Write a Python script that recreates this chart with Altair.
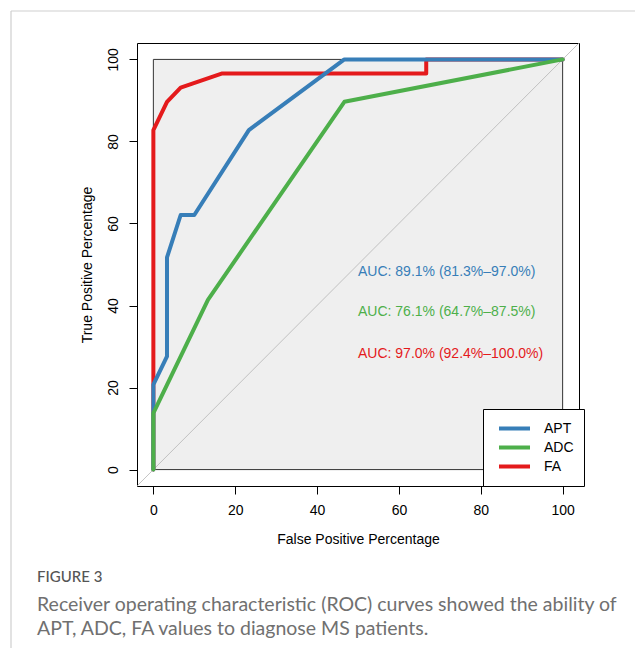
import altair as alt
import pandas as pd

# ---- data ----
series_names = ["APT", "ADC", "FA"]
series_colors = ["#377EB8", "#4DAF4A", "#E41A1C"]

apt_fpr = [0, 0, 3.33, 3.33, 6.67, 10.0, 23.33, 46.67, 100]
apt_tpr = [0, 20.69, 27.59, 51.72, 62.07, 62.07, 82.76, 100, 100]

adc_fpr = [0, 0, 13.33, 46.67, 100]
adc_tpr = [0, 13.79, 41.38, 89.66, 100]

fa_fpr = [0, 0, 3.33, 6.67, 16.67, 66.67, 66.67, 100]
fa_tpr = [0, 82.76, 89.66, 93.10, 96.55, 96.55, 100, 100]

auc_texts = ["AUC: 89.1% (81.3%\u201397.0%)",
             "AUC: 76.1% (64.7%\u201387.5%)",
             "AUC: 97.0% (92.4%\u2013100.0%)"]
auc_x = [50, 50, 50]
auc_y = [48.2, 38.4, 28.2]

x_ticks = [0, 20, 40, 60, 80, 100]
y_ticks = [0, 20, 40, 60, 80, 100]
axis_limits = [-4, 104]

caption_head = "FIGURE 3"
caption_lines = ["Receiver operating characteristic (ROC) curves showed the ability of",
                 "APT, ADC, FA values to diagnose MS patients."]

# ---- tables ----
def curve(name, fx, ty):
    return pd.DataFrame({"series": name, "fpr": fx, "tpr": ty, "i": range(len(fx))})

df_apt = curve("APT", apt_fpr, apt_tpr)
df_adc = curve("ADC", adc_fpr, adc_tpr)
df_fa = curve("FA", fa_fpr, fa_tpr)
df_auc = pd.DataFrame({"series": series_names, "text": auc_texts, "x": auc_x, "y": auc_y})
df_box = pd.DataFrame({"x": [0], "x2": [100], "y": [0], "y2": [100]})
df_diag = pd.DataFrame({"x": axis_limits, "y": axis_limits})

FONT = "Liberation Sans"
W, H = 442, 443
PAD_L, PAD_T = 129, 35
TOTAL_W, TOTAL_H = 627, 640

xscale = alt.Scale(domain=axis_limits, nice=False, zero=False)
yscale = alt.Scale(domain=axis_limits, nice=False, zero=False)

xaxis = alt.Axis(values=x_ticks, title="False Positive Percentage", labelPadding=9,
                 titleY=57, titleBaseline="alphabetic", labelFlush=False)
yaxis = alt.Axis(values=y_ticks, title="True Positive Percentage", labelAngle=-90,
                 labelAlign="center", labelBaseline="alphabetic", labelPadding=12,
                 titleX=-46, titleBaseline="alphabetic", titleAngle=270, labelFlush=False)

color = alt.Color("series:N",
                  scale=alt.Scale(domain=series_names, range=series_colors),
                  legend=alt.Legend(orient="none", legendX=346, legendY=366, title=None,
                                    fillColor="white", strokeColor="black", padding=10,
                                    symbolType="stroke", symbolSize=961, symbolStrokeWidth=4,
                                    symbolOffset=4, labelOffset=12, clipHeight=19, rowPadding=0,
                                    labelFont=FONT, labelFontSize=14, labelColor="black",
                                    cornerRadius=0))

box = alt.Chart(df_box).mark_rect(fill="#efefef", stroke="#333333", strokeWidth=1).encode(
    x=alt.X("x:Q", scale=xscale, axis=xaxis), x2="x2:Q",
    y=alt.Y("y:Q", scale=yscale, axis=yaxis), y2="y2:Q")

diag = alt.Chart(df_diag).mark_line(color="#b5b5b5", strokeWidth=0.8).encode(
    x=alt.X("x:Q", scale=xscale), y=alt.Y("y:Q", scale=yscale))

def line_layer(df):
    return alt.Chart(df).mark_line(strokeWidth=4, strokeJoin="round", strokeCap="round").encode(
        x=alt.X("fpr:Q", scale=xscale), y=alt.Y("tpr:Q", scale=yscale),
        order="i:Q", color=color)

fa_l = line_layer(df_fa)
apt_l = line_layer(df_apt)
adc_l = line_layer(df_adc)

auc = alt.Chart(df_auc).mark_text(align="left", baseline="middle", font=FONT, fontSize=14).encode(
    x=alt.X("x:Q", scale=xscale), y=alt.Y("y:Q", scale=yscale), text="text:N",
    color=alt.Color("series:N", scale=alt.Scale(domain=series_names, range=series_colors), legend=None))

one = pd.DataFrame({"a": [0]})
border_top = alt.Chart(one).mark_rule(color="#cfcfcf", strokeWidth=1.2).encode(
    x=alt.value(-126), x2=alt.value(TOTAL_W - PAD_L), y=alt.value(-32))
border_left = alt.Chart(one).mark_rule(color="#cfcfcf", strokeWidth=1.2).encode(
    x=alt.value(-126), y=alt.value(-32), y2=alt.value(TOTAL_H - PAD_T))

cap_font = "Lato"
head = alt.Chart(one).mark_text(align="left", baseline="alphabetic", font=cap_font,
                                fontSize=15, color="#555555", fontWeight=500).encode(
    x=alt.value(-100), y=alt.value(539), text=alt.value(caption_head))
cap1 = alt.Chart(one).mark_text(align="left", baseline="alphabetic", font=cap_font,
                                fontSize=19.5, color="#707070").encode(
    x=alt.value(-100), y=alt.value(568), text=alt.value(caption_lines[0]))
cap2 = alt.Chart(one).mark_text(align="left", baseline="alphabetic", font=cap_font,
                                fontSize=19.5, color="#707070").encode(
    x=alt.value(-100), y=alt.value(592), text=alt.value(caption_lines[1]))

chart = alt.layer(box, diag, fa_l, apt_l, adc_l, auc, border_top, border_left, head, cap1, cap2).properties(
    width=W, height=H,
    autosize=alt.AutoSizeParams(type="none"),
    padding={"left": PAD_L, "top": PAD_T, "right": TOTAL_W - PAD_L - W, "bottom": TOTAL_H - PAD_T - H},
    background="white",
).configure_view(stroke="black", strokeWidth=1).configure_axis(
    domain=False, grid=False, tickColor="black", tickSize=8, tickWidth=1,
    labelFont=FONT, labelFontSize=14, labelColor="black",
    titleFont=FONT, titleFontSize=14, titleFontWeight="normal", titleColor="black")

chart.save("out.html", embed_options={"renderer": "svg", "actions": False})
